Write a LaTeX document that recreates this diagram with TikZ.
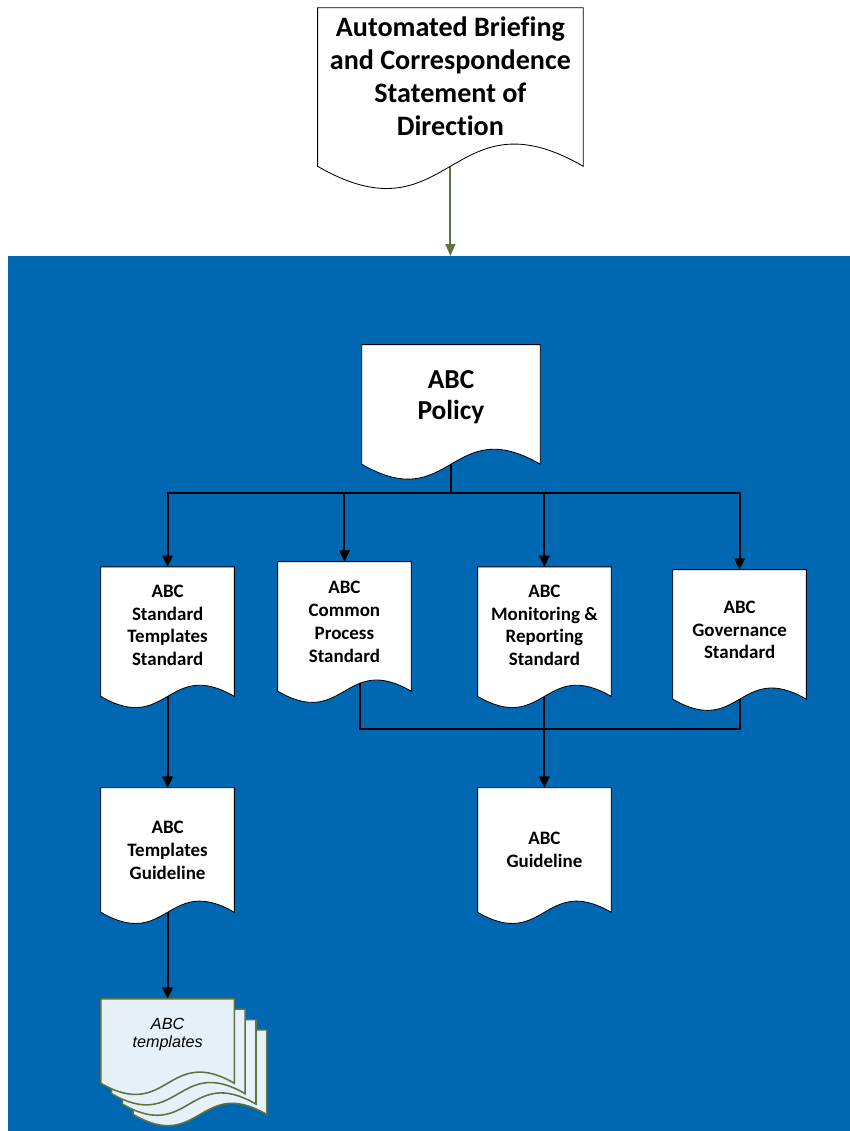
\documentclass[tikz,border=0pt]{standalone}
\usepackage{fontspec}
\setmainfont{Carlito}[Ligatures=NoCommon]
\newfontfamily\arialfont{Liberation Sans}
\usetikzlibrary{arrows.meta,calc}
\definecolor{abcblue}{RGB}{0,103,178}
\definecolor{abcolive}{RGB}{94,114,66}
\definecolor{abcpale}{RGB}{230,240,249}
\pgfdeclarelayer{back}
\pgfdeclarelayer{docs}
\pgfsetlayers{back,docs,main}

\begin{document}
\begin{tikzpicture}[
  doc/.style={rectangle,inner sep=0pt,align=center,minimum width=3.325cm,minimum height=3.225cm,
    font=\fontsize{13.5}{16.3}\selectfont\bfseries},
  docline/.style={draw=black,fill=white,line width=0.6pt},
  tmpline/.style={draw=abcolive,fill=abcpale,line width=1.1pt},
  conn/.style={line width=1.3pt},
  arr/.style={conn,-{Triangle[length=8pt,width=7.5pt]}},
  olivearr/.style={draw=abcolive,line width=1.3pt,-{Triangle[length=8.5pt,width=7pt]}}
]
\useasboundingbox (0,0) rectangle (21.25,-28.275);

% Statement of direction
\node[doc,minimum width=6.625cm,minimum height=3.95cm,text depth=15pt,
  font=\fontsize{20}{23.5}\selectfont\bfseries] (sod) at (11.26,-2.175)
  {Automated Briefing\\and Correspondence\\Statement of\\Direction};

% Policy
\node[doc,minimum width=4.45cm,minimum height=2.975cm,text depth=14pt,
  font=\fontsize{19.5}{22}\selectfont\bfseries] (pol) at (11.275,-10.11) {ABC\\Policy};

% Standards
\node[doc,text depth=9pt] (stt) at (4.19,-15.79) {ABC\\Standard\\Templates\\Standard};
\node[doc,text depth=6.5pt] (cps) at (8.61,-15.66) {ABC\\Common\\Process\\Standard};
\node[doc,text depth=9pt] (mrs) at (13.61,-15.79) {ABC\\Monitoring \&\\Reporting\\Standard};
\node[doc,text depth=6.5pt] (gov) at (18.49,-15.86) {ABC\\Governance\\Standard};

% Guidelines
\node[doc,minimum height=3.1cm] (tgl) at (4.19,-21.25) {ABC\\Templates\\Guideline};
\node[doc,minimum height=3.1cm] (gdl) at (13.61,-21.25) {ABC\\Guideline};

% Templates
\node[doc,minimum height=2.1cm,text depth=12pt,
  font=\arialfont\itshape\fontsize{11.5}{13}\selectfont] (tmp) at (4.19,-26.025) {ABC\\templates};

% Document outlines
\begin{pgfonlayer}{docs}
\foreach \n in {sod,pol,stt,cps,mrs,gov,tgl,gdl}
  \draw[docline] (\n.south west) -- (\n.north west) -- (\n.north east) -- (\n.south east)
    .. controls ($(\n.south)!0.58!90:(\n.south east)$) and ($(\n.south)!0.58!-90:(\n.south east)$) .. (\n.south west) -- cycle;
\foreach \k in {3,2,1,0}
  \draw[tmpline,transform canvas={shift={({0.27*\k},{-0.26*\k})}}]
    (tmp.south west) -- (tmp.north west) -- (tmp.north east) -- (tmp.south east)
    .. controls ($(tmp.south)!0.58!90:(tmp.south east)$) and ($(tmp.south)!0.58!-90:(tmp.south east)$) .. (tmp.south west) -- cycle;
\end{pgfonlayer}

% Panel and connectors
\begin{pgfonlayer}{back}
\fill[abcblue] (0.2,-6.4) rectangle (21.25,-28.275);
\coordinate (entry) at (sod.south |- 0,-6.4);
\draw[olivearr] (sod.south) -- (entry);

\coordinate (split) at ($(pol.south)+(0,-0.72)$);
\draw[conn] (pol.south) -- (split);
\foreach \n in {stt,cps,mrs,gov}
  \draw[arr] (split) -| (\n.north);

\draw[arr] (stt.south) -- (tgl.north);
\draw[arr] (tgl.south) -- (tmp.north);

\coordinate (bus) at (mrs.south |- 0,-18.225);
\draw[conn] ($(cps.south)+(0.39,0.4)$) |- (bus) -| ($(gov.south)+(0,0.4)$);
\draw[arr] (mrs.south) -- (gdl.north);
\end{pgfonlayer}
\end{tikzpicture}
\end{document}
